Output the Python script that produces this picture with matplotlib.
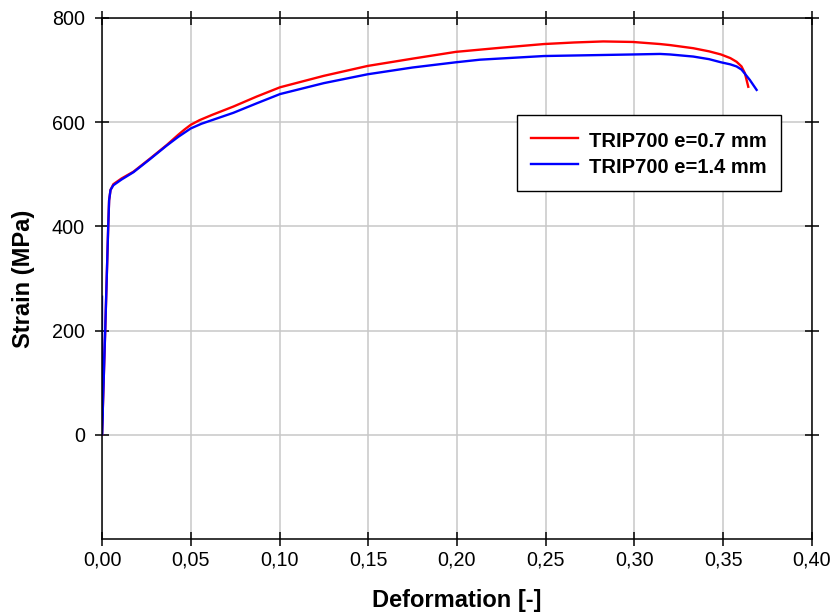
import matplotlib
matplotlib.use("Agg")
import matplotlib.pyplot as plt
from matplotlib.ticker import FuncFormatter, MultipleLocator

plt.rcParams['font.family'] = ['Liberation Sans', 'DejaVu Sans']

# TRIP700 e=0.7 mm
red_x = [0, 0.0018, 0.0035, 0.0040, 0.0048, 0.0064, 0.0110, 0.0177, 0.0270, 0.0364,
         0.0430, 0.0465, 0.0500, 0.0550, 0.0620, 0.0680, 0.0740, 0.0870, 0.1003, 0.1250,
         0.1497, 0.1750, 0.1994, 0.2250, 0.2490, 0.2660, 0.2824, 0.2990, 0.3144, 0.3200,
         0.3331, 0.3420, 0.3487, 0.3540, 0.3575, 0.3603, 0.3622, 0.3641]
red_y = [0, 200, 400, 450, 470, 481, 492, 505, 530, 556,
         576, 586, 595, 604, 614, 622, 630, 649, 667, 689,
         708, 722, 735, 743, 750, 753, 755, 754, 750, 748,
         742, 736, 730, 723, 716, 707, 694, 668]

# TRIP700 e=1.4 mm
blue_x = [0, 0, 0, 0.0018, 0.0035, 0.0040, 0.0048, 0.0064, 0.0110, 0.0177, 0.0270,
          0.0364, 0.0430, 0.0500, 0.0560, 0.0620, 0.0680, 0.0740, 0.0870, 0.1003,
          0.1250, 0.1497, 0.1750, 0.1994, 0.2130, 0.2490, 0.2824, 0.2990, 0.3144,
          0.3200, 0.3331, 0.3420, 0.3487, 0.3540, 0.3575, 0.3603, 0.3622, 0.3650, 0.3688]
blue_y = [265, 65, 0, 200, 400, 450, 470, 479, 490, 504, 529,
          555, 572, 588, 597, 604, 611, 618, 636, 654,
          675, 692, 705, 715, 720, 727, 729, 730, 731,
          730, 726, 721, 715, 711, 707, 701, 693, 681, 662]

fig = plt.figure(figsize=(8.3, 6.14), dpi=100)
ax = fig.add_axes([0.1229, 0.1221, 0.8554, 0.8486])

ax.plot(red_x, red_y, color='#ff0000', lw=1.7, label='TRIP700 e=0.7 mm')
ax.plot(blue_x, blue_y, color='#0000ff', lw=1.7, label='TRIP700 e=1.4 mm')

ax.set_xlim(0, 0.40)
ax.set_ylim(-200, 800)
ax.xaxis.set_major_locator(MultipleLocator(0.05))
ax.set_yticks([0, 200, 400, 600, 800])
ax.xaxis.set_major_formatter(FuncFormatter(lambda v, p: f"{v:.2f}".replace('.', ',')))

ax.grid(True, color='#c8c8c8', lw=1.1)
ax.set_axisbelow(True)
for s in ax.spines.values():
    s.set_linewidth(1.1)

ax.tick_params(direction='inout', length=10.5, width=1.1, top=True, right=True,
               labelsize=14.2)
ax.tick_params(axis='x', pad=3)
ax.tick_params(axis='y', pad=7)

ax.set_xlabel('Deformation [-]', fontsize=17, fontweight='bold', labelpad=14)
ax.set_ylabel('Strain (MPa)', fontsize=17, fontweight='bold', labelpad=12)

leg = ax.legend(loc='upper right', bbox_to_anchor=(0.9563, 0.8138), fancybox=False,
                edgecolor='black', framealpha=1, handlelength=2.35, handletextpad=0.55,
                handleheight=1.25, borderpad=0.7, labelspacing=0.25, borderaxespad=0,
                prop={'size': 14.5, 'weight': 'bold'})
leg.get_frame().set_linewidth(1.0)

fig.savefig('out.png', dpi=100)
